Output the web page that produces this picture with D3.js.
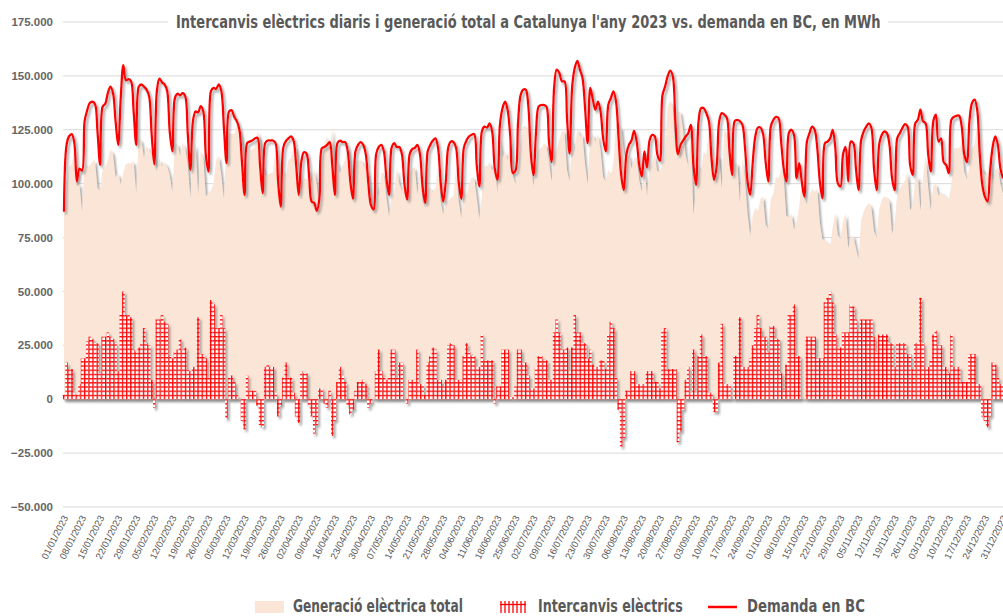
<!DOCTYPE html>
<html><head><meta charset="utf-8">
<script src="https://cdn.jsdelivr.net/npm/d3@7"></script>
<style>
html,body{margin:0;padding:0;background:#fff;}
svg{display:block;}
</style></head><body>
<svg id="chart" width="1003" height="616"></svg>
<script>
// ---- DATA (MWh per day, 01/01/2023 .. 31/12/2023) ----
const demand=[87000,118000,122000,123000,119000,101000,107000,106000,129000,134000,
137400,138000,137000,124000,108700,135800,137000,142000,145000,142000,
129000,118000,139700,155000,148000,148500,147500,133500,118000,145000,
146000,145000,143600,140500,122700,109000,142800,148700,147000,146000,
143000,124000,115000,139700,141700,141000,142000,140500,122700,106400,
129000,133500,133000,136000,133500,113000,105600,143000,144400,144000,
146000,143000,126000,109500,133500,134000,131000,129000,125000,110000,
94800,118800,119500,120000,121000,121300,108600,95600,118800,120000,
120000,120000,118800,101000,89400,116600,119700,121000,121900,120000,
108600,94800,110000,114600,114000,104000,91700,91000,87400,93000,
116500,117000,118000,119300,108600,94800,118800,120000,119300,119300,
115000,101000,93000,115000,118000,119300,118000,113600,100000,90000,
88000,113600,117000,118000,115000,102500,94800,116600,118800,117000,
117000,113600,99500,92600,113600,116000,116600,118000,113600,98700,
91000,115000,118000,120000,121000,116600,101000,91700,101000,117000,
119600,119300,116600,101000,93000,116600,120000,121900,122700,123000,
108600,98700,124200,126500,126000,128000,124000,107000,101800,127300,
135000,138000,134000,122000,105000,106000,128000,141000,143600,143600,
136000,113600,104000,124200,135800,136500,136500,135800,119600,110000,
144400,152900,151400,147500,147500,130400,114000,145000,153700,157000,
152900,149000,135000,118800,144400,139000,134300,138000,133500,121000,
115000,136500,139700,142800,138000,121000,104000,97000,113400,118000,
120000,124500,119500,108600,103300,115000,107400,120000,122600,122000,
113600,110600,141000,145000,149800,152400,149800,128900,113600,118000,
120000,121900,123400,127300,108600,99400,129000,135000,135000,132700,
129000,112000,101800,108000,129000,132700,132000,130400,115000,104000,
129000,129600,129000,127300,116600,101000,94800,110000,122000,126000,
126000,123000,110000,101000,126500,129600,131000,130400,119500,107000,
101000,123400,125000,122600,102500,109500,101000,94000,119500,123400,
126500,125000,116600,101000,93200,118800,119500,121000,125000,116600,
100000,98700,113600,117000,101000,119500,118800,107000,97000,120000,
124200,126500,128000,125800,107000,97000,118000,122600,124200,123400,
118000,102500,97000,121000,123400,125800,127600,126500,108600,104000,
128000,129600,134300,129000,128000,113600,105600,129000,132000,119500,
121000,110000,108600,104900,129600,131000,131500,131500,126500,113600,
110000,129000,137400,139000,134300,113600,99400,94000,91700,105600,
117000,121900,118000,107000,102500];

const interchanges=[2000,17000,14000,14000,3000,2000,7000,19000,19000,27000,
29000,28000,26000,26000,12000,29000,29000,31000,29000,28000,
26000,13000,40000,50000,39000,39000,38000,23000,22000,24000,
26000,33000,26000,25000,9000,-4000,37000,37000,39000,36000,
35000,20000,19000,22000,23000,28000,23000,24000,14000,13000,
15000,15000,38000,21000,21000,19000,10000,46000,44000,33000,
33000,39000,33000,-9000,10000,11000,8000,2000,0,-10000,
-14000,11000,4000,4000,4000,-3000,-12000,-13000,15000,16000,
15000,15000,3000,-8000,-3000,10000,17000,10000,10000,3000,
-8000,-11000,13000,12000,12000,-3000,-8000,-16000,-12000,5000,
5000,-2000,-4000,4000,-17000,-10000,8000,15000,11000,8000,
-3000,-7000,-5000,4000,8000,8000,9000,7000,-4000,-2000,
0,13000,23000,13000,10000,9000,10000,23000,23000,10000,
17000,17000,0,-2000,9000,9000,9000,23000,7000,7000,
2000,17000,20000,24000,23000,9000,9000,6000,9000,25000,
26000,25000,9000,9000,9000,20000,26000,22000,20000,20000,
15000,15000,30000,18000,18000,18000,18000,-2000,6000,6000,
23000,23000,23000,1000,1000,6000,23000,23000,17000,17000,
11000,5000,5000,15000,20000,20000,18000,18000,9000,9000,
31000,37000,31000,23000,23000,24000,13000,24000,39000,31000,
31000,26000,26000,19000,23000,16000,15000,15000,18000,18000,
14000,30000,36000,33000,10000,-5000,-22000,-18000,4000,4000,
13000,13000,7000,7000,7000,7000,13000,13000,13000,8000,
8000,5000,32000,33000,14000,14000,14000,14000,-20000,-15000,
-5000,9000,15000,3000,23000,3000,20000,30000,20000,20000,
3000,3000,-6000,-6000,17000,35000,7000,7000,7000,0,
20000,20000,38000,15000,15000,15000,19000,25000,33000,39000,
33000,29000,29000,22000,34000,34000,28000,28000,12000,4000,
16000,39000,39000,44000,20000,20000,0,0,29000,29000,
29000,29000,19000,19000,19000,45000,47000,50000,45000,30000,
24000,24000,31000,31000,31000,44000,43000,37000,32000,37000,
37000,37000,37000,37000,29000,22000,30000,30000,30000,30000,
26000,26000,15000,26000,26000,26000,26000,21000,21000,14000,
26000,26000,47000,26000,15000,15000,18000,30000,32000,25000,
25000,15000,15000,12000,30000,15000,15000,15000,8000,8000,
8000,21000,21000,21000,7000,7000,-8000,-10000,-13000,-8000,
17000,16000,10000,7000,7000];

const generation=[85000,101000,108000,109000,116000,99000,100000,87000,110000,107000,
108400,110000,111000,98000,96700,106800,108000,111000,116000,114000,
103000,105000,99700,105000,109000,109500,109500,110500,96000,121000,
120000,112000,117600,115500,113700,113000,105800,111700,108000,110000,
108000,104000,96000,117700,118700,113000,119000,116500,108700,93400,
114000,118500,95000,115000,112500,94000,95600,97000,100400,111000,
113000,104000,93000,118500,123500,123000,123000,127000,125000,120000,
108800,107800,115500,116000,117000,124300,120600,108600,103800,104000,
105000,105000,115800,109000,92400,106600,102700,111000,111900,117000,
116600,105800,97000,102600,102000,107000,99700,107000,99400,88000,
111500,119000,122000,115300,125600,104800,110800,105000,108300,111300,
118000,108000,98000,111000,110000,111300,109000,106600,104000,92000,
88000,100600,94000,105000,105000,93500,84800,93600,95800,107000,
100000,96600,99500,94600,104600,107000,107600,95000,106600,91700,
89000,98000,98000,96000,98000,107600,92000,85700,92000,92000,
93600,94300,107600,92000,84000,96600,94000,99900,102700,103000,
93600,83700,94200,108500,108000,110000,106000,109000,95800,121300,
112000,115000,111000,121000,104000,100000,105000,118000,126600,126600,
125000,108600,99000,109200,115800,116500,118500,117800,110600,101000,
113400,115900,120400,124500,124500,106400,101000,121000,114700,126000,
121900,123000,109000,99800,121400,123000,119300,123000,115500,103000,
101000,106500,103700,109800,128000,126000,126000,115000,109400,114000,
107000,111500,112500,101600,96300,108000,94400,107000,109600,114000,
105600,105600,109000,112000,135800,138400,135800,114900,133600,133000,
125000,112900,108400,124300,85600,96400,109000,105000,115000,112700,
126000,109000,107800,114000,112000,97700,125000,123400,108000,104000,
109000,109600,91000,112300,101600,86000,75800,85000,89000,87000,
93000,94000,81000,79000,92500,95600,103000,102400,107500,103000,
85000,84400,86000,78600,82500,89500,101000,94000,90500,94400,
97500,96000,97600,82000,74200,73800,72500,71000,80000,86600,
76000,74700,82600,86000,70000,75500,75800,70000,65000,83000,
87200,89500,91000,88800,78000,75000,88000,92600,94200,93400,
92000,76500,82000,95000,97400,99800,101600,105500,87600,90000,
102000,103600,87300,103000,113000,98600,87600,99000,100000,94500,
96000,95000,93600,92900,99600,116000,116500,116500,118500,105600,
102000,108000,116400,118000,127300,106600,107400,104000,104700,113600,
100000,105900,108000,100000,95500];

const yTickValues=[-50000,-25000,0,25000,50000,75000,100000,125000,150000,175000];
const seriesNames=["Generació elèctrica total","Intercanvis elèctrics","Demanda en BC"];
const titleText="Intercanvis elèctrics diaris i generació total a Catalunya l'any 2023 vs. demanda en BC, en MWh";
const firstDay=new Date(2023,0,1), endDay=new Date(2024,0,1);

// ---- CHART ----
const dates=d3.timeDay.range(firstDay,endDay);
const svg=d3.select("#chart");
const narrow='"Liberation Sans Narrow","Arial Narrow","DejaVu Sans Condensed","Roboto Condensed","Liberation Sans",sans-serif';
const grayTxt="#595959";

// condense a text horizontally (geometric scale) so it spans `target` px, starting at (x0,y0)
function condense(sel,x0,y0,target){
  const w=sel.node().getComputedTextLength();
  const k=w>0?Math.min(1,target/w):1;
  sel.attr("x",0).attr("y",0).attr("transform",`translate(${x0},${y0}) scale(${k},1)`);
  return sel;
}

const x=d3.scaleTime().domain([dates[0],dates[dates.length-1]]).range([64,1003]);
const y=d3.scaleLinear().domain([-50000,175000]).range([507,22]);
const step=x(dates[1])-x(dates[0]);
const loc=d3.formatLocale({decimal:",",thousands:".",grouping:[3],currency:["","€"]});
const fmt=loc.format(",");

const defs=svg.append("defs");
const pat=defs.append("pattern").attr("id","grid").attr("patternUnits","userSpaceOnUse")
  .attr("width",4.2).attr("height",4.2);
pat.append("rect").attr("width",4.2).attr("height",4.2).attr("fill","#fff");
pat.append("rect").attr("width",4.2).attr("height",1.3).attr("fill","#ff0000");
pat.append("rect").attr("width",1.3).attr("height",4.2).attr("fill","#ff0000");
const f=defs.append("filter").attr("id","sh").attr("x","-5%").attr("y","-5%").attr("width","110%").attr("height","115%");
f.append("feDropShadow").attr("dx",2).attr("dy",2.5).attr("stdDeviation",1)
  .attr("flood-color","#808080").attr("flood-opacity",0.7);

// gridlines
svg.append("g").selectAll("line").data(yTickValues).join("line")
  .attr("x1",63).attr("x2",1003).attr("y1",d=>y(d)).attr("y2",d=>y(d))
  .attr("stroke","#d9d9d9").attr("stroke-width",1);

// y labels
svg.append("g").selectAll("text").data(yTickValues).join("text")
  .attr("x",53).attr("y",d=>y(d)).attr("dy","0.36em").attr("text-anchor","end")
  .attr("font-family","'Liberation Sans',Arial,sans-serif").attr("font-size",11.5).attr("font-weight","bold")
  .attr("fill","#666").text(d=>fmt(d));

// area
const area=d3.area().x((d,i)=>x(dates[i])).y0(y(0)).y1(d=>y(d));
svg.append("path").datum(generation).attr("d",area).attr("fill","#fbe5d6").attr("filter","url(#sh)");

// bars
const gb=svg.append("g").attr("filter","url(#sh)");
gb.selectAll("rect").data(interchanges).join("rect")
  .attr("x",(d,i)=>x(dates[i])-step/2).attr("width",step)
  .attr("y",d=>Math.min(y(d),y(0))).attr("height",d=>Math.abs(y(d)-y(0)))
  .attr("fill","url(#grid)");

// demand line
const line=d3.line().x((d,i)=>x(dates[i])).y(d=>y(d)).curve(d3.curveCatmullRom.alpha(0.5));
svg.append("path").datum(demand).attr("d",line).attr("fill","none")
  .attr("stroke","#ff0000").attr("stroke-width",2.3).attr("filter","url(#sh)");

// x labels
const tickDates=dates.filter((d,i)=>i%7===0);
const tf=d3.timeFormat("%d/%m/%Y");
svg.append("g").selectAll("text").data(tickDates).join("text")
  .attr("transform",d=>`translate(${x(d)+1.5},516) rotate(-63)`)
  .attr("text-anchor","end").attr("dy","0.35em")
  .attr("font-family","'Liberation Sans',Arial,sans-serif").attr("font-size",9.5)
  .attr("fill","#555").text(d=>tf(d));

// title
svg.append("rect").attr("x",168).attr("y",9).attr("width",720).attr("height",26).attr("fill","#fff");
const tt=svg.append("text").attr("font-family",narrow).attr("font-weight","bold").attr("font-size",17.5)
  .attr("fill",grayTxt).text(titleText);
condense(tt,176,28,705);

// legend
const lg=svg.append("g");
lg.append("rect").attr("x",255).attr("y",601).attr("width",29).attr("height",12).attr("fill","#fbe5d6");
condense(lg.append("text").attr("font-family",narrow).attr("font-weight","bold").attr("font-size",17)
  .attr("fill",grayTxt).text(seriesNames[0]),293,612,170);
const hx=d3.range(501,527,4);
lg.selectAll("line.v").data(hx).join("line").attr("class","v")
  .attr("x1",d=>d).attr("x2",d=>d).attr("y1",601).attr("y2",613).attr("stroke","#ff0000").attr("stroke-width",1.3);
lg.append("line").attr("x1",500).attr("x2",526).attr("y1",604.5).attr("y2",604.5).attr("stroke","#ff0000").attr("stroke-width",1.3);
condense(lg.append("text").attr("font-family",narrow).attr("font-weight","bold").attr("font-size",17)
  .attr("fill",grayTxt).text(seriesNames[1]),538,612,145);
lg.append("line").attr("x1",708).attr("x2",737).attr("y1",607).attr("y2",607).attr("stroke","#ff0000").attr("stroke-width",2.5);
condense(lg.append("text").attr("font-family",narrow).attr("font-weight","bold").attr("font-size",17)
  .attr("fill",grayTxt).text(seriesNames[2]),747,612,118);
</script>
</body></html>
